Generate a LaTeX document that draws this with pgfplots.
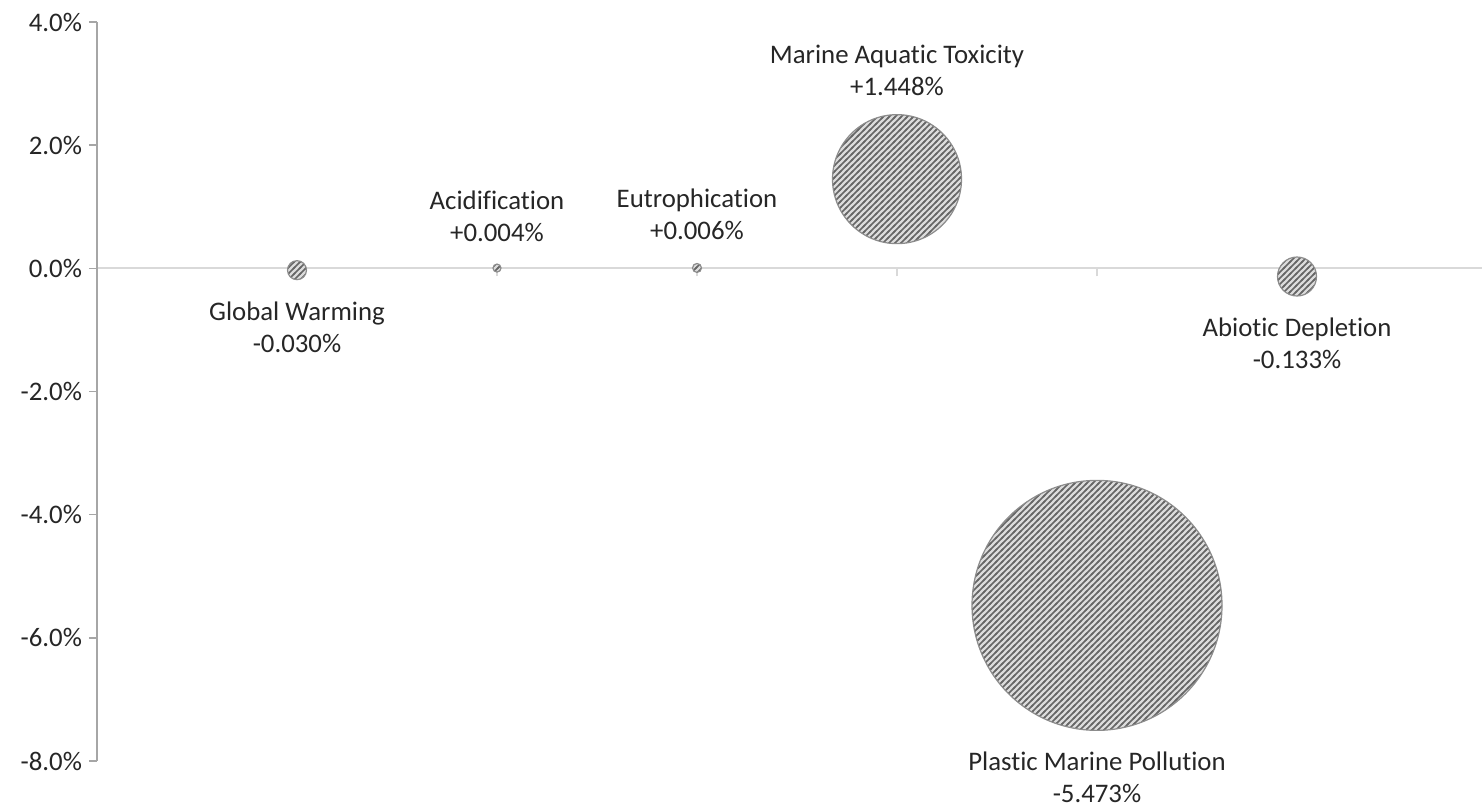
\documentclass[border=0pt]{standalone}
\usepackage{fontspec}
\setmainfont{Carlito}[Ligatures=NoCommon]
\usepackage{pgfplots}
\usepackage{pgfplotstable}
\pgfplotsset{compat=1.18}
\usetikzlibrary{patterns}

\definecolor{axisgray}{HTML}{A6A6A6}
\definecolor{zerogray}{HTML}{D9D9D9}
\definecolor{txt}{HTML}{262626}
\definecolor{bubblebg}{HTML}{DCDCDC}
\definecolor{bubbleline}{HTML}{666666}
\definecolor{bubbleedge}{HTML}{8C8C8C}

% diagonal hatching, a bit thicker than the stock north east lines
\pgfdeclarepatternformonly{hatch}{\pgfqpoint{-1pt}{-1pt}}{\pgfqpoint{4pt}{4pt}}{\pgfqpoint{3pt}{3pt}}{%
  \pgfsetlinewidth{0.85pt}%
  \pgfpathmoveto{\pgfqpoint{-0.5pt}{-0.5pt}}%
  \pgfpathlineto{\pgfqpoint{3.5pt}{3.5pt}}%
  \pgfusepath{stroke}%
}

% bubble: grey disc, hatched, thin grey rim
\pgfdeclareplotmark{hatchball}{%
  \pgfpathcircle{\pgfpointorigin}{\pgfplotmarksize}%
  \pgfsetfillcolor{bubblebg}%
  \pgfusepath{fill}%
  \pgfpathcircle{\pgfpointorigin}{\pgfplotmarksize}%
  \pgfsetfillpattern{hatch}{bubbleline}%
  \pgfusepath{fill}%
  \pgfpathcircle{\pgfpointorigin}{\pgfplotmarksize}%
  \pgfsetstrokecolor{bubbleedge}%
  \pgfsetlinewidth{0.6pt}%
  \pgfusepath{stroke}%
}

% x = category slot, y = change in %, r = bubble radius (pt)
\pgfplotstableread{
x y r
1 -0.030 4.75
2 0.004 2
3 0.006 2.25
4 1.448 32.25
5 -5.473 62.5
6 -0.133 9.75
}\impacts

\begin{document}
\begin{tikzpicture}[
    lbl/.style={font=\fontsize{13.4}{16}\selectfont, align=center, text=txt},
  ]
  \begin{axis}[
      at={(0pt,0pt)}, anchor=south west,
      width=692.5pt, height=369.5pt,
      scale only axis,
      clip=false,
      xmin=0, xmax=6.925,
      ymin=-8, ymax=4,
      axis x line=middle,
      axis y line=left,
      x axis line style={zerogray, line width=1pt, -},
      y axis line style={axisgray, line width=0.75pt, -},
      hide obscured x ticks=false,
      hide obscured y ticks=false,
      xtick={1,...,6},
      xticklabels={},
      xtick align=outside,
      ytick={-8,-6,...,4},
      yticklabels={-8.0\%,-6.0\%,-4.0\%,-2.0\%,0.0\%,2.0\%,4.0\%},
      ytick align=outside,
      major tick length=4pt,
      major x tick style={zerogray, line width=1pt},
      major y tick style={axisgray, line width=0.75pt},
      yticklabel style={font=\fontsize{13.4}{16}\selectfont, text=txt},
    ]
    \addplot[
      scatter, only marks, mark=hatchball,
      visualization depends on={\thisrow{r} \as \rad},
      scatter/@pre marker code/.append style={/tikz/mark size=\rad},
    ] table[x=x, y=y] {\impacts};

    \node[lbl] at (axis cs:1,-0.965) {Global Warming\\-0.030\%};
    \node[lbl] at (axis cs:2,0.85) {Acidification\\+0.004\%};
    \node[lbl] at (axis cs:3,0.87) {Eutrophication\\+0.006\%};
    \node[lbl] at (axis cs:4,3.22) {Marine Aquatic Toxicity\\+1.448\%};
    \node[lbl] at (axis cs:5,-8.26) {Plastic Marine Pollution\\-5.473\%};
    \node[lbl] at (axis cs:6,-1.22) {Abiotic Depletion\\-0.133\%};
  \end{axis}
  \pgfresetboundingbox
  \useasboundingbox (-48.5pt,-23.5pt) rectangle (692.5pt,380.5pt);
\end{tikzpicture}
\end{document}
